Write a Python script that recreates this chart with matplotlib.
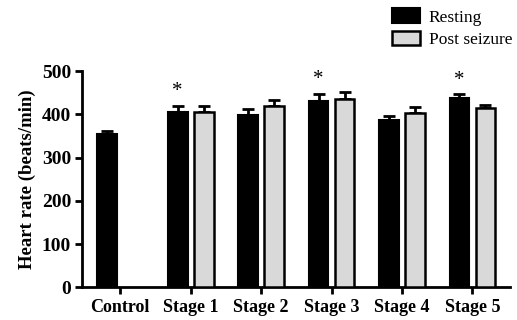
import numpy as np
import matplotlib.pyplot as plt

plt.rcParams['font.family'] = ['Liberation Serif', 'DejaVu Serif']

categories = ['Control', 'Stage 1', 'Stage 2', 'Stage 3', 'Stage 4', 'Stage 5']
resting = [355, 405, 399, 431, 387, 438]
resting_err = [7, 15, 13, 17, 10, 9]
post_seizure = [np.nan, 405, 419, 435, 404, 415]
post_err = [0, 15, 14, 16, 14, 6]
significant = [False, True, False, True, False, True]

x = np.arange(len(categories))
w = 0.28
off = 0.185

fig = plt.figure(figsize=(5.17, 3.2), dpi=100)
ax = fig.add_axes([0.159, 0.1016, 0.827, 0.676])

ax.bar(x - off, resting, w, color='black', edgecolor='black', linewidth=1.5,
       label='Resting', zorder=3)
ax.bar(x + off, post_seizure, w, color='#d9d9d9', edgecolor='black', linewidth=1.8,
       label='Post seizure', zorder=3)

ax.errorbar(x - off, resting, yerr=[np.zeros(len(x)), resting_err], fmt='none',
            ecolor='black', elinewidth=2, capsize=4, capthick=2, zorder=2)
pe = np.array(post_seizure)
mask = ~np.isnan(pe)
ax.errorbar((x + off)[mask], pe[mask], yerr=[np.zeros(mask.sum()), np.array(post_err)[mask]],
            fmt='none', ecolor='black', elinewidth=2, capsize=4, capthick=2, zorder=2)

for i, s in enumerate(significant):
    if s:
        ax.text(x[i] - off, resting[i] + resting_err[i] + 32, '*', ha='center',
                va='center', fontsize=15)

ax.set_xlim(-0.54, 5.53)
ax.set_ylim(0, 500)
ax.set_yticks([0, 100, 200, 300, 400, 500])
ax.set_xticks(x)
ax.set_xticklabels(categories, fontsize=13, fontweight='bold')
for lab in ax.get_yticklabels():
    lab.set_fontsize(14)
    lab.set_fontweight('bold')
ax.set_ylabel('Heart rate (beats/min)', fontsize=13.5, fontweight='bold', labelpad=4)

for side in ['top', 'right']:
    ax.spines[side].set_visible(False)
for side in ['left', 'bottom']:
    ax.spines[side].set_linewidth(2)
ax.tick_params(width=2, length=5, direction='out', pad=3)

fig.legend(loc='upper left', bbox_to_anchor=(0.735, 1.012), frameon=False, fontsize=12.5,
           handlelength=1.6, handleheight=0.9, handletextpad=0.5, labelspacing=0.3,
           borderaxespad=0.3)

fig.savefig('out.png', dpi=100)
